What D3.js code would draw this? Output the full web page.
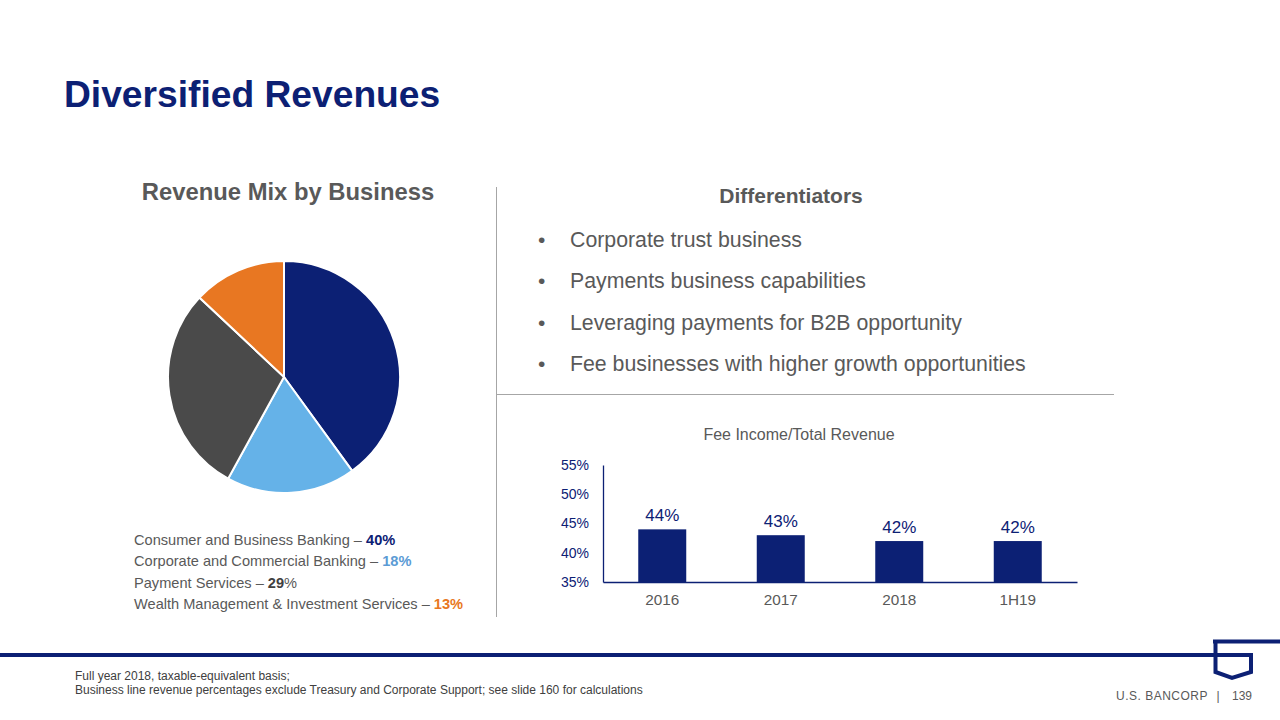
<!DOCTYPE html>
<html>
<head>
<meta charset="utf-8">
<script src="https://cdn.jsdelivr.net/npm/d3@7"></script>
<style>
  html, body { margin: 0; padding: 0; background: #fff; }
  svg { display: block; font-family: Arial, "Liberation Sans", sans-serif; }
</style>
</head>
<body>
<svg id="chart" width="1280" height="720"></svg>
<script>
// ---------- DATA ----------
const pieCategories = ["Consumer and Business Banking", "Corporate and Commercial Banking", "Payment Services", "Wealth Management & Investment Services"];
const pieValues = [40, 18, 29, 13];
const pieColors = ["#0c2074", "#65b2e8", "#4a4a4a", "#e87722"];
const pieLabelColors = ["#0c2074", "#5b9bd5", "#404040", "#e87722"];

const barCategories = ["2016", "2017", "2018", "1H19"];
const barValues = [44, 43, 42, 42];
const barTicks = [35, 40, 45, 50, 55];

const bullets = [
  "Corporate trust business",
  "Payments business capabilities",
  "Leveraging payments for B2B opportunity",
  "Fee businesses with higher growth opportunities"
];

const NAVY = "#0c2074";
const GRAY = "#595959";
const FONT = "Arial, 'Liberation Sans', sans-serif";

const svg = d3.select("#chart");

// ---------- TITLE ----------
svg.append("text").attr("x", 64).attr("y", 107)
  .attr("font-size", 37.2).attr("font-weight", "bold").attr("fill", NAVY)
  .text("Diversified Revenues");

// ---------- SEPARATORS ----------
svg.append("line").attr("x1", 496.5).attr("x2", 496.5).attr("y1", 187).attr("y2", 617)
  .attr("stroke", "#a6a6a6").attr("stroke-width", 1);
svg.append("line").attr("x1", 496).attr("x2", 1114).attr("y1", 394.5).attr("y2", 394.5)
  .attr("stroke", "#a6a6a6").attr("stroke-width", 1);

// ---------- PIE ----------
svg.append("text").attr("x", 288).attr("y", 200).attr("text-anchor", "middle")
  .attr("font-size", 23.8).attr("font-weight", "bold").attr("fill", GRAY)
  .text("Revenue Mix by Business");

const pie = d3.pie().sort(null).value(d => d)(pieValues);
const arc = d3.arc().innerRadius(0).outerRadius(116);
const pg = svg.append("g").attr("transform", "translate(284,377)");
pg.selectAll("path").data(pie).join("path")
  .attr("d", arc)
  .attr("fill", (d, i) => pieColors[i])
  .attr("stroke", "#fff").attr("stroke-width", 2);

// legend
const legendY = [545, 566, 588, 609];
pieCategories.forEach((c, i) => {
  const t = svg.append("text").attr("x", 134).attr("y", legendY[i])
    .attr("font-size", 14.6).attr("fill", GRAY);
  t.append("tspan").text(c + " \u2013 ");
  if (i === 2) {
    t.append("tspan").attr("font-weight", "bold").attr("fill", pieLabelColors[i]).text(pieValues[i]);
    t.append("tspan").text("%");
  } else {
    t.append("tspan").attr("font-weight", "bold").attr("fill", pieLabelColors[i]).text(pieValues[i] + "%");
  }
});

// ---------- DIFFERENTIATORS ----------
svg.append("text").attr("x", 791).attr("y", 203).attr("text-anchor", "middle")
  .attr("font-size", 21).attr("font-weight", "bold").attr("fill", GRAY)
  .text("Differentiators");

const bulletY = [247, 288, 330, 371];
bullets.forEach((b, i) => {
  svg.append("text").attr("x", 538).attr("y", bulletY[i])
    .attr("font-size", 21).attr("fill", GRAY).text("\u2022");
  svg.append("text").attr("x", 570).attr("y", bulletY[i])
    .attr("font-size", 21.3).attr("fill", GRAY).text(b);
});

// ---------- BAR CHART ----------
svg.append("text").attr("x", 799).attr("y", 440).attr("text-anchor", "middle")
  .attr("font-size", 16).attr("fill", GRAY).text("Fee Income/Total Revenue");

const x = d3.scaleBand().domain(barCategories).range([603, 1077]).paddingInner(0.595).paddingOuter(0.2975);
const y = d3.scaleLinear().domain([35, 55]).range([582, 465]);

const bg = svg.append("g");
bg.selectAll("rect").data(barValues).join("rect")
  .attr("x", (d, i) => x(barCategories[i]))
  .attr("width", x.bandwidth())
  .attr("y", d => y(d))
  .attr("height", d => y(35) - y(d))
  .attr("fill", NAVY);

bg.selectAll("text.val").data(barValues).join("text").attr("class", "val")
  .attr("x", (d, i) => x(barCategories[i]) + x.bandwidth() / 2)
  .attr("y", d => y(d) - 8)
  .attr("text-anchor", "middle").attr("font-size", 17).attr("fill", NAVY)
  .text(d => d + "%");

const yAxis = svg.append("g").attr("transform", "translate(603,0)")
  .call(d3.axisLeft(y).tickValues(barTicks).tickSize(0).tickPadding(14).tickFormat(d => d + "%"));
yAxis.select(".domain").attr("stroke", NAVY).attr("stroke-width", 1.3);
yAxis.selectAll("text").attr("font-size", 14).attr("fill", NAVY).attr("font-family", FONT);

const xAxis = svg.append("g").attr("transform", "translate(0,582)")
  .call(d3.axisBottom(x).tickSize(0).tickPadding(12));
xAxis.select(".domain").attr("stroke", NAVY).attr("stroke-width", 1.3);
xAxis.selectAll("text").attr("font-size", 15.3).attr("fill", GRAY).attr("font-family", FONT);

// ---------- FOOTER ----------
const logo = svg.append("g").attr("fill", "none").attr("stroke", NAVY).attr("stroke-width", 4);
logo.append("line").attr("x1", 0).attr("x2", 1215).attr("y1", 655).attr("y2", 655);
logo.append("line").attr("x1", 1213).attr("x2", 1280).attr("y1", 641.5).attr("y2", 641.5);
logo.append("path").attr("d", "M1215.5,641 L1215.5,672 L1232,678 L1251,672 L1251,655 L1215,655")
  .attr("stroke-linejoin", "miter");

svg.append("text").attr("x", 75).attr("y", 680).attr("font-size", 12).attr("fill", "#404040")
  .text("Full year 2018, taxable-equivalent basis;");
svg.append("text").attr("x", 75).attr("y", 694).attr("font-size", 12).attr("fill", "#404040")
  .text("Business line revenue percentages exclude Treasury and Corporate Support; see slide 160 for calculations");

svg.append("text").attr("x", 1208).attr("y", 700).attr("text-anchor", "end")
  .attr("font-size", 12).attr("fill", GRAY).attr("letter-spacing", 0.5)
  .text("U.S. BANCORP");
svg.append("text").attr("x", 1218).attr("y", 700).attr("text-anchor", "middle")
  .attr("font-size", 12).attr("fill", GRAY).text("|");
svg.append("text").attr("x", 1232).attr("y", 700)
  .attr("font-size", 12).attr("fill", GRAY).text("139");
</script>
</body>
</html>
